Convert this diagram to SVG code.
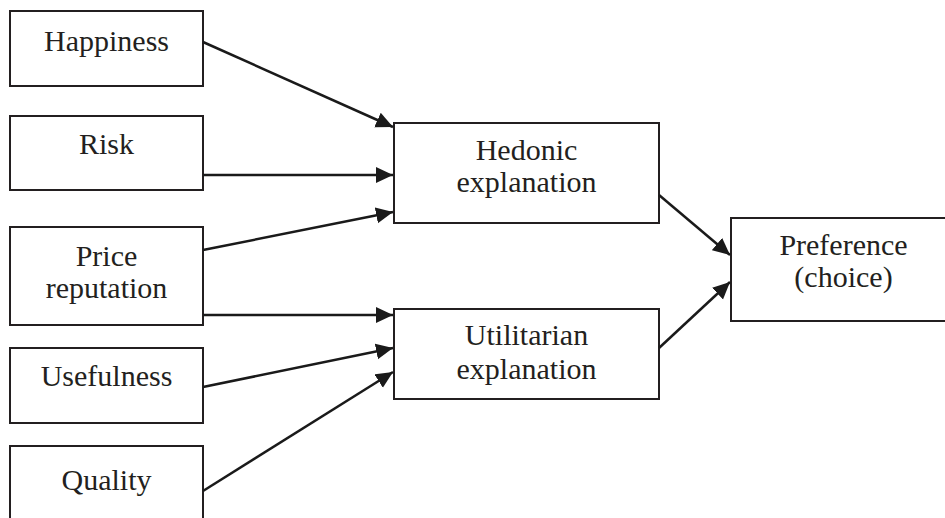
<svg xmlns="http://www.w3.org/2000/svg" width="945" height="518" viewBox="0 0 945 518">
<style>
.box{fill:#fff;stroke:#231f20;stroke-width:2}
.lbl{font-family:"Liberation Serif","Times New Roman",serif;font-size:30px;fill:#231f20;text-anchor:middle}
.con{stroke:#1a1a1a;stroke-width:2.5;fill:none;marker-end:url(#ah)}
</style>
<defs>
<marker id="ah" markerUnits="userSpaceOnUse" markerWidth="18" markerHeight="17" refX="17" refY="8" orient="auto">
<path d="M0,0 L17,8 L0,16 z" fill="#1a1a1a"/>
</marker>
</defs>
<rect width="945" height="518" fill="#fff"/>
<g id="happiness"><rect class="box" x="10" y="11" width="193" height="75"/><text class="lbl" x="106.5" y="51">Happiness</text></g>
<g id="risk"><rect class="box" x="10" y="116" width="193" height="74"/><text class="lbl" x="106.5" y="154">Risk</text></g>
<g id="price"><rect class="box" x="10" y="227" width="193" height="98"/><text class="lbl" x="106.5" y="266">Price</text><text class="lbl" x="106.5" y="298">reputation</text></g>
<g id="usefulness"><rect class="box" x="10" y="348" width="193" height="75"/><text class="lbl" x="106.5" y="386">Usefulness</text></g>
<g id="quality"><rect class="box" x="10" y="446" width="193" height="80"/><text class="lbl" x="106.5" y="490">Quality</text></g>
<g id="hedonic"><rect class="box" x="394" y="123" width="265" height="100"/><text class="lbl" x="526.5" y="160">Hedonic</text><text class="lbl" x="526.5" y="192">explanation</text></g>
<g id="utilitarian"><rect class="box" x="394" y="309" width="265" height="90"/><text class="lbl" x="526.5" y="345">Utilitarian</text><text class="lbl" x="526.5" y="379">explanation</text></g>
<g id="preference"><rect class="box" x="731" y="218" width="225" height="103"/><text class="lbl" x="843.5" y="255">Preference</text><text class="lbl" x="843.5" y="287">(choice)</text></g>
<g id="connectors">
<line class="con" x1="203" y1="42" x2="393" y2="127"/>
<line class="con" x1="203" y1="175" x2="393" y2="175"/>
<line class="con" x1="203" y1="250" x2="393" y2="212"/>
<line class="con" x1="203" y1="315" x2="393" y2="315"/>
<line class="con" x1="203" y1="387" x2="393" y2="348"/>
<line class="con" x1="203" y1="491" x2="393" y2="372"/>
<line class="con" x1="659" y1="195" x2="730" y2="255"/>
<line class="con" x1="659" y1="348" x2="730" y2="282"/>
</g>
</svg>
